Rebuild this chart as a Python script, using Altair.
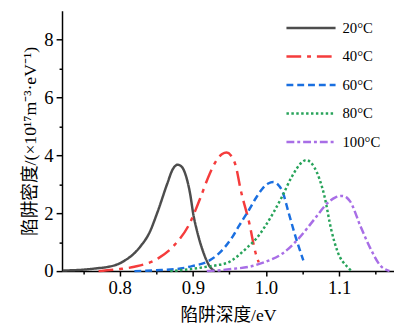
import altair as alt
import pandas as pd

series = ["20°C", "40°C", "60°C", "80°C", "100°C"]
colors = ["#4d4d4d", "#f53c3c", "#1a6fe0", "#27a35a", "#a86ee6"]
dashes = [[1, 0], [15, 6, 4, 6], [7, 4], [2.5, 2.5], [8, 3, 3, 3]]

x20 = [0.722, 0.75, 0.77, 0.785, 0.80, 0.807, 0.82, 0.829, 0.84, 0.852, 0.865, 0.872, 0.879, 0.885, 0.890, 0.896, 0.901, 0.905, 0.914, 0.923, 0.930]
y20 = [0.02, 0.05, 0.10, 0.15, 0.27, 0.37, 0.62, 0.88, 1.30, 2.07, 3.03, 3.50, 3.68, 3.60, 3.33, 2.70, 1.90, 1.45, 0.67, 0.16, 0.0]

x40 = [0.771, 0.80, 0.82, 0.852, 0.874, 0.896, 0.910, 0.923, 0.932, 0.940, 0.946, 0.952, 0.959, 0.965, 0.977, 0.986, 0.990]
y40 = [0.0, 0.07, 0.15, 0.43, 0.88, 1.67, 2.52, 3.37, 3.82, 4.05, 4.10, 4.00, 3.60, 2.85, 1.67, 0.60, 0.30]

x60 = [0.820, 0.85, 0.883, 0.90, 0.919, 0.936, 0.955, 0.963, 0.977, 0.986, 0.995, 1.003, 1.010, 1.016, 1.022, 1.031, 1.040, 1.051]
y60 = [0.0, 0.03, 0.09, 0.18, 0.32, 0.62, 1.22, 1.56, 2.13, 2.52, 2.85, 3.03, 3.08, 3.00, 2.78, 2.01, 1.22, 0.37]

x80 = [0.869, 0.90, 0.919, 0.932, 0.950, 0.955, 0.977, 0.986, 0.999, 1.022, 1.035, 1.049, 1.055, 1.061, 1.066, 1.080, 1.089, 1.098, 1.111, 1.117]
y80 = [0.0, 0.08, 0.15, 0.20, 0.32, 0.40, 0.88, 1.10, 1.56, 2.58, 3.25, 3.76, 3.84, 3.76, 3.59, 2.58, 1.45, 0.66, 0.15, 0.0]

x100 = [0.919, 0.932, 0.955, 0.977, 0.999, 1.022, 1.044, 1.066, 1.084, 1.095, 1.104, 1.110, 1.115, 1.129, 1.143, 1.156, 1.169]
y100 = [0.0, 0.02, 0.08, 0.15, 0.32, 0.60, 1.11, 1.79, 2.35, 2.55, 2.60, 2.55, 2.41, 1.56, 0.77, 0.20, 0.0]

x_ticks = [0.75, 0.8, 0.85, 0.9, 0.95, 1.0, 1.05, 1.1, 1.15]
y_ticks = [0, 1, 2, 3, 4, 5, 6, 7, 8]

rows = []
for name, xs, ys in zip(series, [x20, x40, x60, x80, x100], [y20, y40, y60, y80, y100]):
    for xv, yv in zip(xs, ys):
        rows.append({"T": name, "x": xv, "y": yv})
df = pd.DataFrame(rows)

SERIF = "Liberation Serif, Noto Sans CJK SC"

legend = alt.Legend(
    title=None, orient="none", legendX=246, legendY=10,
    symbolType="M-10,0H10", symbolSize=25, symbolStrokeWidth=2.5,
    labelFont=SERIF, labelFontSize=15, labelColor="#000000",
    labelOffset=24.5, rowPadding=13, padding=0,
)

chart = alt.Chart(df).mark_line(strokeWidth=2.5, interpolate="monotone").encode(
    x=alt.X("x:Q",
            scale=alt.Scale(domain=[0.721, 1.175], nice=False, zero=False),
            axis=alt.Axis(
                title="陷阱深度/eV", values=x_ticks, format=".1f",
                labelExpr="round(datum.value*100) % 10 == 0 ? datum.label : ''",
                tickSize={"condition": {"test": "round(datum.value*100) % 10 == 0", "value": 5}, "value": 3},
                grid=False)),
    y=alt.Y("y:Q",
            scale=alt.Scale(domain=[0, 9], nice=False),
            axis=alt.Axis(
                title="陷阱密度/(×10¹⁷m⁻³·eV⁻¹)", values=y_ticks,
                labelExpr="datum.value % 2 == 0 ? datum.label : ''",
                tickSize={"condition": {"test": "datum.value % 2 == 0", "value": 6}, "value": 3},
                grid=False)),
    color=alt.Color("T:N", scale=alt.Scale(domain=series, range=colors), legend=legend),
    strokeDash=alt.StrokeDash("T:N", scale=alt.Scale(domain=series, range=dashes), legend=legend),
).properties(
    width=338, height=265,
    autosize=alt.AutoSizeParams(type="none"),
    padding={"left": 55, "top": 0, "right": 0, "bottom": 52},
).configure_view(
    stroke=None
).configure_axis(
    domainColor="#000000", domainWidth=1.5,
    tickColor="#000000", tickWidth=1.5,
    labelFont=SERIF, labelFontSize=19, labelColor="#000000", labelPadding=3,
    titleFont=SERIF, titleFontSize=18, titleFontWeight="normal", titleColor="#000000",
).configure_axisX(
    titlePadding=9
).configure_axisY(
    titlePadding=4
)

chart.save("out.html", embed_options={"renderer": "svg", "actions": False})
